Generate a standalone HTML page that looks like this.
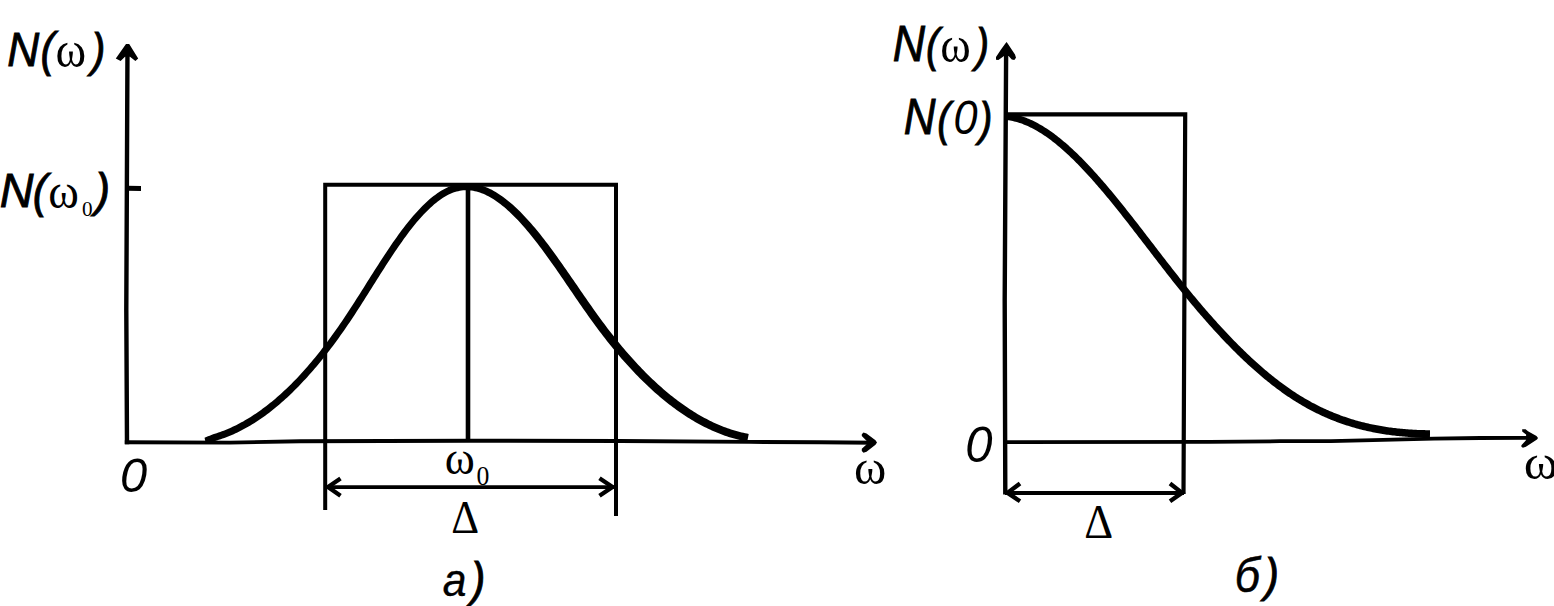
<!DOCTYPE html>
<html><head><meta charset="utf-8"><title>N(ω)</title>
<style>html,body{margin:0;padding:0;background:#fff;width:1554px;height:606px;overflow:hidden}svg{display:block}</style>
</head><body>
<svg width="1554" height="606" viewBox="0 0 1554 606">
<rect width="1554" height="606" fill="#fff"/>
<g stroke="#000" fill="none" stroke-linecap="butt">
<polyline points="127.45,56 126.3,310 127,444.2" stroke-width="4.4"/>
<polyline points="124.8,442.2 230,442.6 300,441.2 470,440.7 620,441 750,441.9 820,442.3 875,442.8" stroke-width="3.9"/>
<line x1="127" y1="188.3" x2="141" y2="188.4" stroke-width="5"/>
<path d="M325.2 510 V184.7 H616 V516" stroke-width="4"/>
<line x1="468" y1="184" x2="468" y2="442" stroke-width="4.6"/>
<line x1="326" y1="487.1" x2="614" y2="487.1" stroke-width="3.6"/>
<polyline points="340.5,478.5 328,487.1 340.5,495.8" stroke-width="4.3"/>
<polyline points="599.5,478.3 612.5,487 599.5,495.8" stroke-width="4.3"/>

<polyline points="1006.1,56 1004.7,300 1005.3,494.5" stroke-width="4.4"/>
<polyline points="1005,442.2 1210,441.9 1280,441.2 1331,441.1 1373,440.2 1434,438.6 1480,438 1528,437.9" stroke-width="3.8"/>
<path d="M1006 114.4 H1185.2 L1183.5 494" stroke-width="4.2"/>
<line x1="1005" y1="493" x2="1184" y2="493" stroke-width="3.8"/>
<polyline points="1020,483.5 1007.5,492.8 1020,501.2" stroke-width="4.3"/>
<polyline points="1170,483.5 1182,492.8 1170,501.2" stroke-width="4.3"/>

</g>
<g fill="#000" stroke="none">
<path d="M205.46 442.06 L207.36 441.91 L209.27 441.72 L211.19 441.51 L213.12 441.26 L215.05 440.97 L216.92 440.42 L218.78 439.85 L220.65 439.24 L222.51 438.60 L224.38 437.93 L226.24 437.23 L228.10 436.51 L229.97 435.75 L231.83 434.96 L233.69 434.15 L235.55 433.30 L237.41 432.42 L239.27 431.52 L241.13 430.58 L242.99 429.62 L244.85 428.62 L246.70 427.60 L248.56 426.54 L250.41 425.46 L252.27 424.34 L254.12 423.20 L255.98 422.02 L257.83 420.82 L259.68 419.59 L261.53 418.32 L263.38 417.02 L265.22 415.69 L267.06 414.33 L268.90 412.94 L270.74 411.52 L272.58 410.07 L274.42 408.58 L276.25 407.07 L278.09 405.53 L279.93 403.96 L281.76 402.37 L283.60 400.74 L285.43 399.08 L287.26 397.39 L289.10 395.67 L290.93 393.93 L292.76 392.15 L294.59 390.34 L296.42 388.51 L298.25 386.64 L300.08 384.74 L301.90 382.82 L303.74 380.87 L305.57 378.89 L307.41 376.88 L309.24 374.85 L311.08 372.78 L312.91 370.68 L314.75 368.56 L316.58 366.40 L318.41 364.21 L320.25 361.99 L322.08 359.75 L323.91 357.47 L325.75 355.16 L327.58 352.83 L329.41 350.46 L331.24 348.06 L333.07 345.63 L334.90 343.17 L336.73 340.69 L338.56 338.17 L340.39 335.62 L342.22 333.04 L344.05 330.43 L345.88 327.79 L347.71 325.12 L349.54 322.42 L351.37 319.69 L353.19 316.93 L355.02 314.16 L356.84 311.36 L358.67 308.54 L360.49 305.70 L362.32 302.85 L364.13 299.99 L365.95 297.12 L367.77 294.24 L369.58 291.35 L371.40 288.46 L373.21 285.58 L375.02 282.69 L376.83 279.81 L378.64 276.94 L380.46 274.08 L382.26 271.23 L384.07 268.39 L385.88 265.58 L387.69 262.78 L389.50 260.00 L391.30 257.25 L393.11 254.52 L394.91 251.82 L396.71 249.16 L398.52 246.53 L400.32 243.93 L402.12 241.38 L403.92 238.86 L405.71 236.39 L407.51 233.97 L409.30 231.59 L411.09 229.27 L412.88 226.99 L414.67 224.77 L416.46 222.61 L418.25 220.50 L420.03 218.45 L421.81 216.46 L423.59 214.53 L425.37 212.67 L427.15 210.88 L428.93 209.15 L430.70 207.49 L432.47 205.89 L434.23 204.37 L435.99 202.92 L437.75 201.54 L439.49 200.23 L441.24 199.00 L442.97 197.85 L444.70 196.78 L446.42 195.78 L448.13 194.87 L449.84 194.04 L451.53 193.29 L453.22 192.62 L454.90 192.04 L456.57 191.54 L458.23 191.13 L459.89 190.79 L461.55 190.54 L463.20 190.36 L464.86 190.26 L466.51 190.23 L468.17 190.28 L469.83 190.39 L471.49 190.57 L473.16 190.83 L474.83 191.16 L476.51 191.56 L478.19 192.03 L479.88 192.57 L481.58 193.18 L483.28 193.86 L484.99 194.61 L486.70 195.42 L488.42 196.30 L490.15 197.25 L491.88 198.26 L493.62 199.33 L495.36 200.47 L497.10 201.67 L498.85 202.94 L500.60 204.27 L502.35 205.65 L504.11 207.10 L505.87 208.60 L507.63 210.16 L509.39 211.77 L511.16 213.44 L512.93 215.16 L514.70 216.93 L516.47 218.75 L518.25 220.61 L520.03 222.53 L521.80 224.49 L523.58 226.50 L525.37 228.55 L527.15 230.64 L528.93 232.78 L530.72 234.96 L532.51 237.17 L534.30 239.43 L536.08 241.72 L537.88 244.04 L539.67 246.40 L541.47 248.79 L543.26 251.21 L545.06 253.67 L546.86 256.14 L548.66 258.65 L550.46 261.17 L552.26 263.72 L554.06 266.28 L555.87 268.87 L557.67 271.47 L559.47 274.08 L561.28 276.70 L563.09 279.34 L564.89 281.98 L566.70 284.63 L568.51 287.28 L570.32 289.94 L572.13 292.59 L573.94 295.25 L575.75 297.90 L577.56 300.54 L579.38 303.18 L581.19 305.81 L583.01 308.43 L584.83 311.03 L586.65 313.62 L588.48 316.19 L590.30 318.75 L592.13 321.28 L593.96 323.80 L595.78 326.29 L597.61 328.75 L599.44 331.19 L601.27 333.60 L603.10 335.99 L604.93 338.35 L606.76 340.68 L608.59 342.98 L610.42 345.26 L612.25 347.52 L614.08 349.75 L615.92 351.95 L617.75 354.12 L619.58 356.27 L621.41 358.39 L623.25 360.49 L625.08 362.56 L626.91 364.61 L628.75 366.62 L630.58 368.62 L632.42 370.58 L634.25 372.52 L636.09 374.44 L637.92 376.32 L639.76 378.19 L641.60 380.02 L643.43 381.83 L645.27 383.61 L647.11 385.37 L648.95 387.10 L650.79 388.81 L652.63 390.49 L654.47 392.14 L656.31 393.77 L658.15 395.37 L660.00 396.94 L661.84 398.49 L663.69 400.01 L665.53 401.51 L667.38 402.97 L669.23 404.42 L671.07 405.83 L672.92 407.22 L674.77 408.59 L676.62 409.93 L678.47 411.24 L680.32 412.53 L682.17 413.79 L684.02 415.03 L685.87 416.24 L687.73 417.42 L689.58 418.58 L691.43 419.71 L693.29 420.81 L695.14 421.89 L697.00 422.95 L698.85 423.98 L700.71 424.98 L702.57 425.96 L704.42 426.91 L706.28 427.83 L708.14 428.73 L710.00 429.60 L711.86 430.45 L713.72 431.27 L715.58 432.06 L717.44 432.83 L719.31 433.58 L721.17 434.29 L723.03 434.98 L724.90 435.65 L726.76 436.29 L728.62 436.90 L730.49 437.49 L732.35 438.05 L734.22 438.59 L736.09 439.10 L737.95 439.58 L739.82 440.04 L741.69 440.47 L743.56 440.87 L745.42 441.25 L747.29 441.61 L748.71 433.94 L746.94 433.59 L745.18 433.23 L743.42 432.84 L741.65 432.42 L739.89 431.98 L738.12 431.51 L736.35 431.02 L734.59 430.51 L732.82 429.97 L731.05 429.40 L729.29 428.81 L727.52 428.20 L725.75 427.56 L723.98 426.89 L722.21 426.21 L720.44 425.49 L718.67 424.75 L716.90 423.98 L715.13 423.19 L713.36 422.38 L711.58 421.54 L709.81 420.67 L708.04 419.78 L706.26 418.86 L704.49 417.92 L702.71 416.95 L700.94 415.96 L699.16 414.94 L697.38 413.90 L695.60 412.83 L693.83 411.73 L692.05 410.61 L690.27 409.46 L688.49 408.29 L686.71 407.09 L684.92 405.87 L683.14 404.62 L681.36 403.34 L679.58 402.04 L677.79 400.72 L676.01 399.36 L674.22 397.98 L672.44 396.58 L670.65 395.15 L668.87 393.69 L667.08 392.21 L665.29 390.70 L663.51 389.16 L661.72 387.61 L659.93 386.02 L658.13 384.41 L656.34 382.77 L654.55 381.11 L652.76 379.42 L650.96 377.71 L649.17 375.97 L647.37 374.20 L645.58 372.41 L643.78 370.59 L641.99 368.74 L640.19 366.87 L638.39 364.97 L636.60 363.04 L634.80 361.09 L633.00 359.11 L631.20 357.11 L629.40 355.07 L627.60 353.02 L625.80 350.93 L624.00 348.82 L622.20 346.68 L620.40 344.52 L618.60 342.33 L616.80 340.11 L615.00 337.87 L613.20 335.60 L611.40 333.30 L609.59 330.98 L607.79 328.63 L605.99 326.25 L604.19 323.85 L602.38 321.42 L600.58 318.96 L598.77 316.48 L596.97 313.97 L595.16 311.44 L593.35 308.89 L591.54 306.32 L589.73 303.74 L587.92 301.14 L586.10 298.53 L584.28 295.91 L582.46 293.28 L580.64 290.64 L578.82 288.00 L577.00 285.36 L575.18 282.71 L573.35 280.07 L571.53 277.42 L569.70 274.78 L567.88 272.15 L566.05 269.52 L564.22 266.90 L562.40 264.30 L560.57 261.71 L558.74 259.13 L556.91 256.57 L555.07 254.03 L553.24 251.51 L551.41 249.01 L549.57 246.53 L547.74 244.09 L545.90 241.67 L544.06 239.28 L542.22 236.92 L540.38 234.60 L538.54 232.31 L536.69 230.06 L534.84 227.85 L533.00 225.67 L531.15 223.54 L529.30 221.44 L527.45 219.39 L525.59 217.38 L523.74 215.41 L521.88 213.49 L520.02 211.62 L518.16 209.79 L516.30 208.02 L514.43 206.29 L512.57 204.62 L510.70 202.99 L508.82 201.42 L506.95 199.91 L505.07 198.45 L503.18 197.05 L501.30 195.70 L499.41 194.41 L497.52 193.18 L495.63 192.01 L493.72 190.91 L491.82 189.87 L489.91 188.90 L487.99 188.00 L486.06 187.16 L484.13 186.40 L482.20 185.71 L480.26 185.10 L478.31 184.56 L476.35 184.10 L474.39 183.72 L472.43 183.42 L470.46 183.21 L468.49 183.08 L466.51 183.05 L464.53 183.10 L462.56 183.24 L460.58 183.48 L458.60 183.81 L456.63 184.23 L454.66 184.74 L452.70 185.35 L450.75 186.05 L448.80 186.84 L446.87 187.71 L444.94 188.67 L443.02 189.71 L441.11 190.83 L439.20 192.02 L437.31 193.30 L435.42 194.65 L433.53 196.07 L431.65 197.56 L429.78 199.12 L427.91 200.75 L426.05 202.45 L424.19 204.21 L422.33 206.04 L420.48 207.93 L418.63 209.88 L416.78 211.88 L414.93 213.94 L413.08 216.06 L411.23 218.23 L409.39 220.45 L407.54 222.73 L405.70 225.06 L403.86 227.44 L402.02 229.86 L400.19 232.33 L398.35 234.84 L396.52 237.40 L394.69 239.99 L392.85 242.62 L391.02 245.28 L389.20 247.97 L387.37 250.69 L385.54 253.44 L383.71 256.21 L381.89 259.01 L380.06 261.82 L378.24 264.65 L376.42 267.50 L374.60 270.36 L372.77 273.23 L370.95 276.10 L369.13 278.98 L367.31 281.87 L365.49 284.75 L363.68 287.63 L361.86 290.51 L360.04 293.38 L358.23 296.24 L356.41 299.09 L354.60 301.93 L352.80 304.76 L350.99 307.56 L349.18 310.34 L347.38 313.10 L345.57 315.83 L343.77 318.54 L341.96 321.21 L340.16 323.85 L338.36 326.47 L336.55 329.05 L334.75 331.60 L332.95 334.12 L331.15 336.61 L329.35 339.07 L327.54 341.50 L325.74 343.90 L323.94 346.27 L322.14 348.60 L320.34 350.91 L318.54 353.19 L316.74 355.43 L314.94 357.65 L313.14 359.83 L311.35 361.99 L309.55 364.11 L307.75 366.21 L305.95 368.27 L304.15 370.30 L302.36 372.31 L300.56 374.28 L298.76 376.22 L296.97 378.13 L295.16 380.01 L293.36 381.85 L291.56 383.67 L289.75 385.45 L287.95 387.20 L286.15 388.93 L284.35 390.62 L282.55 392.28 L280.75 393.91 L278.95 395.52 L277.15 397.09 L275.36 398.63 L273.56 400.14 L271.77 401.63 L269.97 403.08 L268.18 404.50 L266.38 405.89 L264.59 407.25 L262.80 408.59 L261.01 409.89 L259.22 411.16 L257.43 412.41 L255.65 413.63 L253.87 414.83 L252.09 415.99 L250.31 417.13 L248.53 418.23 L246.76 419.31 L244.98 420.36 L243.20 421.38 L241.43 422.37 L239.65 423.33 L237.88 424.26 L236.11 425.16 L234.33 426.03 L232.56 426.87 L230.79 427.69 L229.02 428.47 L227.25 429.23 L225.48 429.96 L223.71 430.66 L221.94 431.33 L220.18 431.97 L218.41 432.58 L216.64 433.16 L214.88 433.72 L213.11 434.25 L211.41 434.97 L209.70 435.68 L207.99 436.37 L206.27 437.03 L204.54 437.66Z"/>
<path d="M1006.14 119.99 L1007.48 120.14 L1008.82 120.33 L1010.15 120.54 L1011.49 120.79 L1012.84 121.07 L1014.18 121.38 L1015.52 121.72 L1016.87 122.09 L1018.22 122.49 L1019.57 122.91 L1020.92 123.37 L1022.28 123.86 L1023.63 124.38 L1024.99 124.92 L1026.35 125.50 L1027.71 126.10 L1029.08 126.73 L1030.44 127.38 L1031.81 128.07 L1033.18 128.78 L1034.55 129.52 L1035.92 130.28 L1037.29 131.07 L1038.67 131.89 L1040.05 132.73 L1041.42 133.60 L1042.80 134.50 L1044.18 135.41 L1045.56 136.36 L1046.95 137.32 L1048.33 138.31 L1049.72 139.33 L1051.10 140.37 L1052.49 141.43 L1053.88 142.51 L1055.27 143.61 L1056.66 144.74 L1058.05 145.89 L1059.44 147.06 L1060.83 148.25 L1062.23 149.46 L1063.62 150.70 L1065.02 151.95 L1066.41 153.22 L1067.81 154.51 L1069.21 155.82 L1070.60 157.15 L1072.00 158.50 L1073.40 159.86 L1074.80 161.24 L1076.20 162.64 L1077.60 164.06 L1079.00 165.50 L1080.40 166.95 L1081.81 168.41 L1083.21 169.89 L1084.61 171.39 L1086.02 172.90 L1087.42 174.43 L1088.83 175.97 L1090.23 177.53 L1091.64 179.10 L1093.04 180.68 L1094.45 182.28 L1095.85 183.88 L1097.26 185.51 L1098.67 187.14 L1100.08 188.78 L1101.48 190.44 L1102.89 192.10 L1104.30 193.78 L1105.71 195.47 L1107.12 197.17 L1108.53 198.87 L1109.94 200.59 L1111.35 202.32 L1112.76 204.05 L1114.17 205.79 L1115.58 207.54 L1116.99 209.30 L1118.40 211.07 L1119.81 212.84 L1121.23 214.62 L1122.64 216.41 L1124.05 218.20 L1125.46 220.00 L1126.88 221.80 L1128.29 223.61 L1129.70 225.42 L1131.11 227.24 L1132.53 229.06 L1133.94 230.89 L1135.36 232.72 L1136.77 234.55 L1138.18 236.38 L1139.60 238.22 L1141.01 240.06 L1142.43 241.90 L1143.84 243.75 L1145.26 245.59 L1146.67 247.43 L1148.09 249.28 L1149.51 251.12 L1150.92 252.97 L1152.34 254.81 L1153.75 256.66 L1155.17 258.50 L1156.59 260.34 L1158.00 262.18 L1159.42 264.02 L1160.84 265.85 L1162.26 267.68 L1163.67 269.51 L1165.09 271.33 L1166.51 273.16 L1167.93 274.97 L1169.35 276.79 L1170.77 278.59 L1172.18 280.40 L1173.60 282.19 L1175.02 283.98 L1176.44 285.77 L1177.86 287.55 L1179.28 289.32 L1180.70 291.09 L1182.12 292.84 L1183.55 294.59 L1184.97 296.34 L1186.39 298.07 L1187.81 299.80 L1189.23 301.52 L1190.65 303.23 L1192.07 304.93 L1193.49 306.62 L1194.91 308.31 L1196.34 309.98 L1197.76 311.65 L1199.18 313.31 L1200.60 314.97 L1202.02 316.61 L1203.45 318.24 L1204.87 319.87 L1206.29 321.49 L1207.71 323.09 L1209.14 324.69 L1210.56 326.28 L1211.98 327.86 L1213.41 329.43 L1214.83 330.99 L1216.25 332.54 L1217.68 334.09 L1219.10 335.62 L1220.52 337.14 L1221.95 338.66 L1223.37 340.16 L1224.80 341.65 L1226.22 343.14 L1227.64 344.61 L1229.07 346.07 L1230.49 347.53 L1231.92 348.97 L1233.34 350.40 L1234.77 351.82 L1236.20 353.24 L1237.62 354.64 L1239.05 356.03 L1240.47 357.41 L1241.90 358.78 L1243.33 360.13 L1244.75 361.48 L1246.18 362.82 L1247.61 364.14 L1249.04 365.45 L1250.46 366.76 L1251.89 368.05 L1253.32 369.32 L1254.75 370.59 L1256.18 371.85 L1257.61 373.09 L1259.04 374.32 L1260.47 375.55 L1261.90 376.75 L1263.33 377.95 L1264.76 379.14 L1266.19 380.31 L1267.62 381.47 L1269.05 382.62 L1270.48 383.75 L1271.91 384.88 L1273.35 385.99 L1274.78 387.08 L1276.21 388.17 L1277.65 389.24 L1279.08 390.30 L1280.51 391.35 L1281.95 392.38 L1283.38 393.40 L1284.82 394.41 L1286.25 395.40 L1287.69 396.38 L1289.13 397.35 L1290.56 398.31 L1292.00 399.25 L1293.44 400.17 L1294.87 401.09 L1296.31 401.98 L1297.75 402.87 L1299.19 403.74 L1300.63 404.60 L1302.07 405.44 L1303.51 406.27 L1304.94 407.09 L1306.38 407.90 L1307.82 408.69 L1309.26 409.46 L1310.70 410.23 L1312.14 410.98 L1313.58 411.72 L1315.02 412.45 L1316.46 413.16 L1317.90 413.86 L1319.34 414.55 L1320.78 415.23 L1322.22 415.89 L1323.66 416.55 L1325.10 417.19 L1326.54 417.81 L1327.98 418.43 L1329.42 419.03 L1330.86 419.63 L1332.30 420.21 L1333.74 420.78 L1335.18 421.34 L1336.62 421.88 L1338.06 422.42 L1339.50 422.95 L1340.94 423.46 L1342.38 423.96 L1343.82 424.45 L1345.26 424.94 L1346.70 425.41 L1348.14 425.87 L1349.58 426.32 L1351.02 426.76 L1352.46 427.18 L1353.89 427.60 L1355.33 428.01 L1356.77 428.41 L1358.21 428.80 L1359.65 429.18 L1361.09 429.55 L1362.53 429.91 L1363.97 430.26 L1365.41 430.60 L1366.85 430.93 L1368.28 431.26 L1369.72 431.57 L1371.16 431.87 L1372.60 432.17 L1374.04 432.46 L1375.47 432.73 L1376.91 433.00 L1378.35 433.26 L1379.79 433.52 L1381.22 433.76 L1382.66 434.00 L1384.10 434.23 L1385.53 434.45 L1386.97 434.66 L1388.40 434.86 L1389.84 435.06 L1391.28 435.25 L1392.71 435.43 L1394.15 435.60 L1395.58 435.77 L1397.02 435.93 L1398.45 436.08 L1399.89 436.23 L1401.32 436.36 L1402.75 436.49 L1404.19 436.62 L1405.62 436.74 L1407.05 436.85 L1408.49 436.95 L1409.92 437.05 L1411.35 437.14 L1412.79 437.23 L1414.22 437.31 L1415.65 437.38 L1417.08 437.45 L1418.51 437.52 L1419.94 437.57 L1421.38 437.62 L1422.81 437.67 L1424.24 437.71 L1425.67 437.75 L1427.10 437.78 L1428.53 437.80 L1429.96 437.82 L1430.04 430.22 L1428.64 430.20 L1427.24 430.18 L1425.84 430.15 L1424.43 430.12 L1423.03 430.08 L1421.63 430.04 L1420.23 429.99 L1418.82 429.93 L1417.42 429.88 L1416.02 429.81 L1414.62 429.74 L1413.22 429.66 L1411.82 429.58 L1410.42 429.49 L1409.02 429.40 L1407.62 429.29 L1406.22 429.19 L1404.82 429.07 L1403.42 428.95 L1402.02 428.83 L1400.63 428.69 L1399.23 428.55 L1397.83 428.41 L1396.43 428.25 L1395.03 428.09 L1393.64 427.93 L1392.24 427.75 L1390.84 427.57 L1389.44 427.38 L1388.05 427.18 L1386.65 426.98 L1385.25 426.77 L1383.86 426.55 L1382.46 426.32 L1381.07 426.08 L1379.67 425.84 L1378.28 425.59 L1376.88 425.33 L1375.49 425.06 L1374.09 424.78 L1372.70 424.50 L1371.30 424.20 L1369.91 423.90 L1368.51 423.59 L1367.12 423.27 L1365.72 422.94 L1364.33 422.60 L1362.94 422.25 L1361.54 421.90 L1360.15 421.53 L1358.75 421.16 L1357.36 420.77 L1355.97 420.38 L1354.57 419.97 L1353.18 419.56 L1351.79 419.14 L1350.40 418.70 L1349.00 418.26 L1347.61 417.81 L1346.22 417.34 L1344.82 416.87 L1343.43 416.38 L1342.04 415.89 L1340.65 415.38 L1339.25 414.87 L1337.86 414.34 L1336.47 413.80 L1335.07 413.25 L1333.68 412.69 L1332.29 412.12 L1330.90 411.53 L1329.50 410.94 L1328.11 410.33 L1326.72 409.72 L1325.32 409.09 L1323.93 408.45 L1322.54 407.79 L1321.15 407.13 L1319.75 406.45 L1318.36 405.76 L1316.97 405.06 L1315.57 404.35 L1314.18 403.62 L1312.79 402.88 L1311.39 402.13 L1310.00 401.36 L1308.60 400.59 L1307.21 399.80 L1305.82 398.99 L1304.42 398.18 L1303.03 397.35 L1301.63 396.51 L1300.24 395.65 L1298.84 394.78 L1297.45 393.89 L1296.05 393.00 L1294.66 392.09 L1293.26 391.16 L1291.87 390.22 L1290.47 389.27 L1289.07 388.30 L1287.67 387.32 L1286.28 386.33 L1284.88 385.33 L1283.48 384.31 L1282.08 383.28 L1280.68 382.23 L1279.28 381.17 L1277.88 380.10 L1276.48 379.02 L1275.08 377.92 L1273.68 376.81 L1272.28 375.69 L1270.87 374.55 L1269.47 373.41 L1268.07 372.25 L1266.67 371.08 L1265.27 369.89 L1263.86 368.70 L1262.46 367.49 L1261.06 366.27 L1259.65 365.04 L1258.25 363.79 L1256.84 362.54 L1255.44 361.27 L1254.03 359.99 L1252.63 358.70 L1251.22 357.40 L1249.82 356.09 L1248.41 354.76 L1247.01 353.43 L1245.60 352.08 L1244.19 350.72 L1242.79 349.35 L1241.38 347.98 L1239.97 346.58 L1238.56 345.18 L1237.16 343.77 L1235.75 342.35 L1234.34 340.92 L1232.93 339.47 L1231.53 338.02 L1230.12 336.56 L1228.71 335.08 L1227.30 333.60 L1225.89 332.10 L1224.48 330.60 L1223.07 329.08 L1221.66 327.56 L1220.26 326.03 L1218.85 324.48 L1217.44 322.93 L1216.03 321.37 L1214.62 319.79 L1213.21 318.21 L1211.80 316.62 L1210.39 315.02 L1208.98 313.41 L1207.56 311.80 L1206.15 310.17 L1204.74 308.53 L1203.33 306.89 L1201.92 305.23 L1200.51 303.57 L1199.10 301.90 L1197.69 300.22 L1196.28 298.54 L1194.86 296.84 L1193.45 295.14 L1192.04 293.42 L1190.63 291.70 L1189.22 289.97 L1187.81 288.24 L1186.39 286.49 L1184.98 284.74 L1183.57 282.98 L1182.16 281.22 L1180.74 279.44 L1179.33 277.66 L1177.92 275.87 L1176.50 274.08 L1175.09 272.28 L1173.67 270.48 L1172.26 268.67 L1170.84 266.86 L1169.43 265.04 L1168.01 263.22 L1166.60 261.39 L1165.18 259.56 L1163.77 257.73 L1162.35 255.90 L1160.94 254.06 L1159.52 252.22 L1158.10 250.38 L1156.69 248.54 L1155.27 246.70 L1153.85 244.85 L1152.44 243.01 L1151.02 241.16 L1149.60 239.32 L1148.18 237.48 L1146.77 235.64 L1145.35 233.79 L1143.93 231.96 L1142.51 230.12 L1141.09 228.28 L1139.67 226.45 L1138.25 224.62 L1136.84 222.79 L1135.42 220.97 L1134.00 219.15 L1132.58 217.34 L1131.16 215.53 L1129.74 213.72 L1128.31 211.92 L1126.89 210.13 L1125.47 208.34 L1124.05 206.56 L1122.63 204.78 L1121.21 203.01 L1119.79 201.25 L1118.36 199.50 L1116.94 197.75 L1115.52 196.01 L1114.10 194.28 L1112.67 192.56 L1111.25 190.85 L1109.83 189.15 L1108.40 187.46 L1106.98 185.78 L1105.55 184.10 L1104.13 182.44 L1102.70 180.79 L1101.28 179.15 L1099.85 177.53 L1098.42 175.91 L1097.00 174.31 L1095.57 172.72 L1094.14 171.14 L1092.71 169.58 L1091.28 168.03 L1089.86 166.50 L1088.43 164.98 L1087.00 163.47 L1085.57 161.98 L1084.13 160.50 L1082.70 159.04 L1081.27 157.60 L1079.84 156.17 L1078.41 154.76 L1076.97 153.36 L1075.54 151.99 L1074.10 150.63 L1072.67 149.28 L1071.23 147.96 L1069.79 146.66 L1068.36 145.37 L1066.92 144.10 L1065.48 142.86 L1064.04 141.63 L1062.60 140.42 L1061.16 139.23 L1059.71 138.07 L1058.27 136.92 L1056.83 135.80 L1055.38 134.70 L1053.93 133.62 L1052.49 132.57 L1051.04 131.53 L1049.59 130.52 L1048.14 129.54 L1046.68 128.57 L1045.23 127.63 L1043.77 126.72 L1042.32 125.83 L1040.86 124.97 L1039.40 124.13 L1037.94 123.32 L1036.48 122.54 L1035.01 121.78 L1033.55 121.05 L1032.08 120.35 L1030.61 119.67 L1029.14 119.02 L1027.67 118.41 L1026.19 117.82 L1024.71 117.26 L1023.24 116.73 L1021.76 116.23 L1020.27 115.77 L1018.79 115.33 L1017.30 114.93 L1015.82 114.55 L1014.33 114.22 L1012.84 113.91 L1011.34 113.64 L1009.85 113.40 L1008.35 113.19 L1006.86 113.02Z"/>
<polygon points="126,44 129.2,44 138.2,58.4 135.4,61 130,56.8 125,56.8 120.6,61 115.8,58.4"/>
<polygon points="877,442.4 875.5,440.2 866.5,433.6 863.5,432.6 861.8,434.2 861.8,436 866.5,440.8 866.5,444.5 861.8,448.8 861.8,451 863.5,452.8 866.5,451.8 875.5,444.8"/>
<polygon points="1006.6,42 1008,44 1015,54.5 1016,57.8 1014.3,60 1011.8,59.6 1008.6,56 1004,56 998.4,60 996,59.8 996,57 1001,49.5 1005,44"/>
<polygon points="1538,438 1536.5,436 1528,431.2 1525.6,429.2 1522.2,429.2 1522.2,431.4 1526.1,434.6 1526.1,440.1 1521.4,445.3 1521.4,446.8 1522.9,447.8 1525.9,446.8 1537,439.5"/>
</g>
<g fill="#000">
<text transform="scale(0.9044 1)"><tspan x="8.00" y="66.15" font-family="'Liberation Sans', sans-serif" font-style="italic" font-size="48.99" stroke="#000" stroke-width="0.9">N</tspan><tspan x="44.87" y="66.09" font-family="'Liberation Sans', sans-serif" font-style="italic" font-size="47.45" stroke="#000" stroke-width="0.9">(</tspan><tspan x="61.35" y="67.49" font-family="'Liberation Serif', sans-serif" font-style="normal" font-size="51.49">ω</tspan><tspan x="100.82" y="65.70" font-family="'Liberation Sans', sans-serif" font-style="italic" font-size="46.91" stroke="#000" stroke-width="0.9">)</tspan></text>
<text transform="scale(0.9719 1)"><tspan x="-0.24" y="206.95" font-family="'Liberation Sans', sans-serif" font-style="italic" font-size="48.12" stroke="#000" stroke-width="0.9">N</tspan><tspan x="33.72" y="206.54" font-family="'Liberation Sans', sans-serif" font-style="italic" font-size="45.74" stroke="#000" stroke-width="0.9">(</tspan><tspan x="49.54" y="208.02" font-family="'Liberation Serif', sans-serif" font-style="normal" font-size="47.87">ω</tspan><tspan x="84.28" y="216.16" font-family="'Liberation Serif', sans-serif" font-style="normal" font-size="21.79">0</tspan><tspan x="97.68" y="206.39" font-family="'Liberation Sans', sans-serif" font-style="italic" font-size="46.49" stroke="#000" stroke-width="0.9">)</tspan></text>
<text transform="scale(1.0019 1)"><tspan x="119.72" y="492.01" font-family="'Liberation Sans', sans-serif" font-style="italic" font-size="48.73">0</tspan></text>
<text transform="scale(0.9805 1)"><tspan x="453.53" y="474.23" font-family="'Liberation Serif', sans-serif" font-style="normal" font-size="46.60">ω</tspan><tspan x="486.05" y="485.07" font-family="'Liberation Serif', sans-serif" font-style="normal" font-size="26.27">0</tspan></text>
<text transform="scale(0.9316 1)"><tspan x="484.40" y="532.70" font-family="'Liberation Serif', sans-serif" font-style="normal" font-size="46.52">Δ</tspan></text>
<text transform="scale(1.0264 1)"><tspan x="831.94" y="484.12" font-family="'Liberation Serif', sans-serif" font-style="normal" font-size="47.87">ω</tspan></text>
<text transform="scale(0.9292 1)"><tspan x="476.60" y="595.94" font-family="'Liberation Sans', sans-serif" font-style="italic" font-size="45.82" stroke="#000" stroke-width="0.4">а</tspan><tspan x="506.62" y="596.13" font-family="'Liberation Sans', sans-serif" font-style="italic" font-size="47.23" stroke="#000" stroke-width="0.9">)</tspan></text>
<text transform="scale(0.8997 1)"><tspan x="992.20" y="61.15" font-family="'Liberation Sans', sans-serif" font-style="italic" font-size="49.71" stroke="#000" stroke-width="0.9">N</tspan><tspan x="1029.32" y="60.53" font-family="'Liberation Sans', sans-serif" font-style="italic" font-size="45.32" stroke="#000" stroke-width="0.9">(</tspan><tspan x="1044.98" y="62.49" font-family="'Liberation Serif', sans-serif" font-style="normal" font-size="51.49">ω</tspan><tspan x="1084.29" y="60.53" font-family="'Liberation Sans', sans-serif" font-style="italic" font-size="45.32" stroke="#000" stroke-width="0.9">)</tspan></text>
<text transform="scale(0.8854 1)"><tspan x="1020.62" y="134.15" font-family="'Liberation Sans', sans-serif" font-style="italic" font-size="49.71" stroke="#000" stroke-width="0.9">N</tspan><tspan x="1058.46" y="134.51" font-family="'Liberation Sans', sans-serif" font-style="italic" font-size="45.43" stroke="#000" stroke-width="0.9">(</tspan><tspan x="1076.85" y="134.11" font-family="'Liberation Sans', sans-serif" font-style="italic" font-size="48.87">0</tspan><tspan x="1105.81" y="134.51" font-family="'Liberation Sans', sans-serif" font-style="italic" font-size="45.43" stroke="#000" stroke-width="0.9">)</tspan></text>
<text transform="scale(0.9916 1)"><tspan x="973.45" y="462.31" font-family="'Liberation Sans', sans-serif" font-style="italic" font-size="49.44">0</tspan></text>
<text transform="scale(0.9206 1)"><tspan x="1177.76" y="537.80" font-family="'Liberation Serif', sans-serif" font-style="normal" font-size="48.79">Δ</tspan></text>
<text transform="scale(1.0640 1)"><tspan x="1432.04" y="479.51" font-family="'Liberation Serif', sans-serif" font-style="normal" font-size="48.94">ω</tspan></text>
<text transform="scale(0.9512 1)"><tspan x="1298.14" y="592.08" font-family="'Liberation Sans', sans-serif" font-style="italic" font-size="47.20" stroke="#000" stroke-width="0.5">б</tspan><tspan x="1329.40" y="590.51" font-family="'Liberation Sans', sans-serif" font-style="italic" font-size="45.43" stroke="#000" stroke-width="0.9">)</tspan></text>
</g>
</svg>
</body></html>
